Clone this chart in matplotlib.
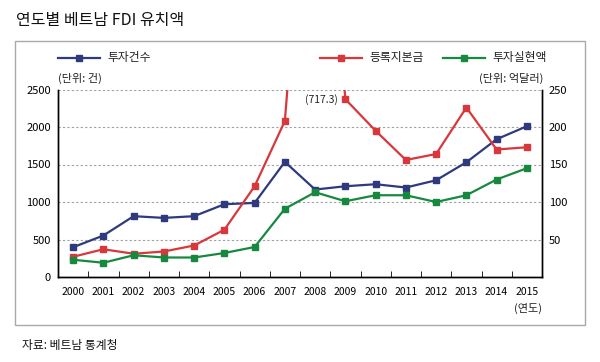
import matplotlib
matplotlib.use("Agg")
import matplotlib.pyplot as plt
from matplotlib.patches import Rectangle

plt.rcParams['font.family'] = ['Noto Sans CJK KR', 'DejaVu Sans']

years = ['2000', '2001', '2002', '2003', '2004', '2005', '2006', '2007',
         '2008', '2009', '2010', '2011', '2012', '2013', '2014', '2015']
projects = [397, 553, 811, 788, 811, 970, 988, 1535, 1166, 1210, 1237, 1193, 1290, 1530, 1837, 2010]
registered = [27, 37, 31, 34, 42, 63, 121, 208, 717.3, 237, 195, 156, 164, 226, 170, 173]
disbursed = [23, 19, 29, 26, 26, 32, 40, 91, 113, 101, 109, 109, 100, 109, 130, 145]
left_ticks = [0, 500, 1000, 1500, 2000, 2500]
right_ticks = [50, 100, 150, 200, 250]

c_blue = '#2f3a7e'
c_red = '#d8383b'
c_green = '#17893f'

W, H = 600, 362
fig = plt.figure(figsize=(6, 3.62), dpi=100)
fig.patch.set_facecolor('white')

# frame
fig.patches.append(Rectangle((15 / W, 1 - 325 / H), 570 / W, 284 / H, transform=fig.transFigure,
                             fill=False, edgecolor='#a4a9ab', linewidth=1.0))

ax = fig.add_axes([58 / W, 1 - 277 / H, 484 / W, 187.5 / H])
ax2 = ax.twinx()
x = list(range(len(years)))

ax.set_xlim(-0.5, len(years) - 0.5)
ax.set_ylim(0, 2500)
ax2.set_ylim(0, 250)

for v in left_ticks[1:]:
    ax.axhline(v, color='#a0a0a0', linestyle=(0, (2, 2)), linewidth=0.8, zorder=0)

ax.plot(x, projects, color=c_blue, marker='s', markersize=4.5, linewidth=1.6, zorder=3)
ax2.plot(x, registered, color=c_red, marker='s', markersize=4.5, linewidth=1.6, zorder=3)
ax2.plot(x, disbursed, color=c_green, marker='s', markersize=4.5, linewidth=1.6, zorder=3)

for a in (ax, ax2):
    a.spines['top'].set_visible(False)
    for s in ('left', 'right', 'bottom'):
        a.spines[s].set_color('black')
        a.spines[s].set_linewidth(1.0)

ax.set_yticks(left_ticks)
ax.set_yticklabels([str(v) for v in left_ticks])
ax.tick_params(axis='y', length=0, pad=5, labelsize=8)
ax2.set_yticks(right_ticks)
ax2.set_yticklabels([str(v) for v in right_ticks])
ax2.tick_params(axis='y', length=0, pad=5, labelsize=8)

ax.set_xticks(x)
ax.set_xticklabels(years)
ax.set_xticks([i + 0.5 for i in x[:-1]], minor=True)
ax.tick_params(axis='x', which='major', length=0, pad=7, labelsize=7.5)
ax.tick_params(axis='x', which='minor', direction='in', length=4, color='black')

ax2.annotate('(717.3)', xy=(8.2, 237), xycoords='data', fontsize=7.5, ha='center', va='center',
             color='#222222')

# legend-like entries
def leg(x0, label, color):
    y0 = 1 - 58 / H
    fig.add_artist(plt.Line2D([x0 / W, (x0 + 42) / W], [y0, y0], transform=fig.transFigure,
                              color=color, linewidth=1.6))
    fig.add_artist(plt.Line2D([(x0 + 21) / W], [y0], transform=fig.transFigure, color=color,
                              marker='s', markersize=4.5))
    fig.text((x0 + 49) / W, y0, label, fontsize=8.5, va='center', ha='left', color='#222222')

leg(58, '투자건수', c_blue)
leg(320, '등록지본금', c_red)
leg(443, '투자실현액', c_green)

fig.text(58 / W, 1 - 78 / H, '(단위: 건)', fontsize=8, va='center', ha='left', color='#222222')
fig.text(543 / W, 1 - 78 / H, '(단위: 억달러)', fontsize=8, va='center', ha='right', color='#222222')
fig.text(528 / W, 1 - 308 / H, '(연도)', fontsize=8, va='center', ha='center', color='#222222')

fig.text(16 / W, 1 - 20 / H, '연도별 베트남 FDI 유치액', fontsize=11.5, va='center', ha='left', color='#111111')
fig.text(22 / W, 1 - 345 / H, '자료: 베트남 통계청', fontsize=8.5, va='center', ha='left', color='#111111')

fig.savefig('out.png', dpi=100, facecolor='white')
